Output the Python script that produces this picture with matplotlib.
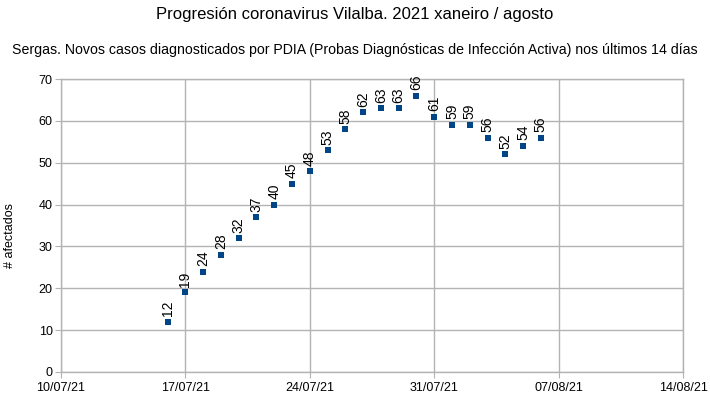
import matplotlib
matplotlib.use("Agg")
import matplotlib.pyplot as plt
import matplotlib.dates as mdates
import numpy as np
import datetime as dt

plt.rcParams['font.family'] = ['Liberation Sans', 'DejaVu Sans']

start_date = dt.date(2021, 7, 16)
values = [12, 19, 24, 28, 32, 37, 40, 45, 48, 53, 58, 62, 63, 63, 66, 61, 59, 59, 56, 52, 54, 56]
dates = [start_date + dt.timedelta(days=i) for i in range(len(values))]
tick_dates = [dt.date(2021, 7, 10) + dt.timedelta(days=7 * i) for i in range(6)]
tick_labels = [d.strftime('%d/%m/%y') for d in tick_dates]

title = "Progresión coronavirus Vilalba. 2021 xaneiro / agosto"
subtitle = "Sergas. Novos casos diagnosticados por PDIA (Probas Diagnósticas de Infección Activa) nos últimos 14 días"
ylabel = "# afectados"

fig = plt.figure(figsize=(7.1, 4.05), dpi=100)
ax = fig.add_axes([61/710, 1 - 372/405, (683 - 61)/710, (372 - 79)/405])

ax.scatter(dates, values, marker='s', s=14, color='#004586', zorder=3, linewidths=0)
for d, v in zip(dates, values):
    ax.annotate(str(v), (mdates.date2num(d), v), xytext=(0, 4), textcoords='offset points',
                rotation=90, ha='center', va='bottom', fontsize=10, color='black')

ax.set_xlim(mdates.date2num(tick_dates[0]), mdates.date2num(tick_dates[-1]))
ax.set_ylim(0, 70)
ax.set_xticks([mdates.date2num(d) for d in tick_dates])
ax.set_xticklabels(tick_labels, fontsize=9)
ax.set_yticks(range(0, 71, 10))
ax.tick_params(axis='y', labelsize=9, length=4, color='#b3b3b3', pad=2)
ax.tick_params(axis='x', labelsize=9, length=4, color='#b3b3b3', pad=3)
ax.grid(True, color='#b3b3b3', linewidth=1)
ax.set_axisbelow(True)
for s in ax.spines.values():
    s.set_color('#b3b3b3')
    s.set_linewidth(1)

fig.text(10/710, 1 - 235/405, ylabel, rotation=90, ha='center', va='center', fontsize=9)

fig.text(0.5, 1 - 14/405, title, ha='center', va='center', fontsize=12)
fig.text(0.5, 1 - 50/405, subtitle, ha='center', va='center', fontsize=10.2)

fig.savefig('out.png', dpi=100)
